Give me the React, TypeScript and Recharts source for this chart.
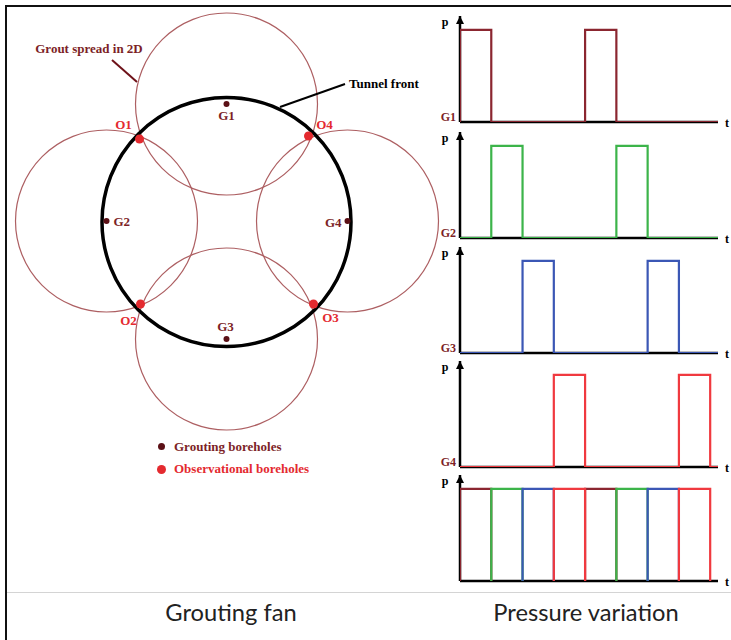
import React from 'react'
import {
  ScatterChart,
  Scatter,
  LineChart,
  Line,
  XAxis,
  YAxis,
  ReferenceArea,
  ReferenceLine,
  ReferenceDot,
  Legend,
} from 'recharts'

// Grouting fan, tunnel centre at (0, 0), y pointing up
const TUNNEL_RADIUS = 124.5
const GROUT_RADIUS = 91

const GROUT_HOLES = [
  { name: 'G1', x: 0, y: 118 },
  { name: 'G2', x: -120, y: 1 },
  { name: 'G3', x: 0, y: -117 },
  { name: 'G4', x: 121, y: 1 },
]

const OBS_HOLES = [
  { name: 'O1', x: -87, y: 83 },
  { name: 'O2', x: -86, y: -82 },
  { name: 'O3', x: 87, y: -82 },
  { name: 'O4', x: 82, y: 86 },
]

// Pressure pulses, time in slots of one injection
const PULSE_WIDTH = 1
const T_END = 8.25
const P_MAX = 1.15
const G1_STARTS = [0, 4]
const G2_STARTS = [1, 5]
const G3_STARTS = [2, 6]
const G4_STARTS = [3, 7]

const MAROON = '#7d1f27'
const RED = '#e42a2f'
const SERIF = "'Liberation Serif', 'Times New Roman', serif"

const SERIES = [
  { name: 'G1', starts: G1_STARTS, color: '#8b2630' },
  { name: 'G2', starts: G2_STARTS, color: '#3cb44a' },
  { name: 'G3', starts: G3_STARTS, color: '#3b57b5' },
  { name: 'G4', starts: G4_STARTS, color: '#f0393f' },
]

const CHART_TOPS = [6, 122, 237, 351, 465]

// where each hole label sits relative to its dot (px)
const LABEL_POS: Record<string, { dx: number; dy: number; anchor: string }> = {
  G1: { dx: 0, dy: 11, anchor: 'middle' },
  G2: { dx: 7, dy: 0, anchor: 'start' },
  G3: { dx: -1, dy: -13, anchor: 'middle' },
  G4: { dx: -6, dy: 1, anchor: 'end' },
  O1: { dx: -16, dy: -15, anchor: 'middle' },
  O2: { dx: -12, dy: 16, anchor: 'middle' },
  O3: { dx: 17, dy: 13, anchor: 'middle' },
  O4: { dx: 16, dy: -12, anchor: 'middle' },
}

const LEGEND_TEXT: Record<string, string> = {
  'Grouting boreholes': MAROON,
  'Observational boreholes': RED,
}

const stepData = (starts: number[]) => [
  { t: 0, p: 0 },
  ...starts.flatMap((s) => [
    { t: s, p: 1 },
    { t: s + PULSE_WIDTH, p: 0 },
  ]),
  { t: T_END, p: 0 },
]

const pulseData = (s: number) => [
  { t: s, p: 0 },
  { t: s, p: 1 },
  { t: s + PULSE_WIDTH, p: 0 },
]

const ring = (stroke: string, width: number) => (props: any) => (
  <ellipse
    cx={props.x + props.width / 2}
    cy={props.y + props.height / 2}
    rx={props.width / 2}
    ry={props.height / 2}
    fill="none"
    stroke={stroke}
    strokeWidth={width}
  />
)

const holeShape = (r: number, fill: string, textColor: string) => (props: any) => {
  const pos = LABEL_POS[props.payload.name]
  return (
    <g>
      <circle cx={props.cx} cy={props.cy} r={r} fill={fill} />
      <text
        x={props.cx + pos.dx}
        y={props.cy + pos.dy}
        dy="0.35em"
        textAnchor={pos.anchor}
        fontFamily={SERIF}
        fontWeight="bold"
        fontSize={13}
        fill={textColor}
      >
        {props.payload.name}
      </text>
    </g>
  )
}

const note = (text: string, color: string, anchor: string) => (props: any) => (
  <text
    x={props.cx}
    y={props.cy}
    dy="0.35em"
    textAnchor={anchor}
    fontFamily={SERIF}
    fontWeight="bold"
    fontSize={13}
    fill={color}
  >
    {text}
  </text>
)

const FanLegend = (props: any) => (
  <div style={{ fontFamily: SERIF, fontWeight: 'bold', fontSize: 13 }}>
    {props.payload.map((entry: any) => (
      <div key={entry.value} style={{ display: 'flex', alignItems: 'center', height: 22.6 }}>
        <span style={{ width: 12, display: 'flex', justifyContent: 'center' }}>
          <span
            style={{
              width: entry.value === 'Grouting boreholes' ? 7 : 9,
              height: entry.value === 'Grouting boreholes' ? 7 : 9,
              borderRadius: '50%',
              background: entry.color,
            }}
          />
        </span>
        <span style={{ marginLeft: 7, color: LEGEND_TEXT[entry.value] }}>{entry.value}</span>
      </div>
    ))}
  </div>
)

const GroutingFan = () => (
  <ScatterChart width={452} height={492} margin={{ top: 0, right: 0, bottom: 0, left: 0 }}>
    <XAxis type="number" dataKey="x" domain={[-226.5, 225.5]} allowDataOverflow hide />
    <YAxis type="number" dataKey="y" domain={[-270, 222]} allowDataOverflow hide />
    {GROUT_HOLES.map((g) => (
      <ReferenceArea
        key={g.name}
        x1={g.x - GROUT_RADIUS}
        x2={g.x + GROUT_RADIUS}
        y1={g.y - GROUT_RADIUS}
        y2={g.y + GROUT_RADIUS}
        ifOverflow="visible"
        shape={ring('#ad5f62', 1.2)}
      />
    ))}
    <ReferenceArea
      x1={-TUNNEL_RADIUS}
      x2={TUNNEL_RADIUS}
      y1={-TUNNEL_RADIUS}
      y2={TUNNEL_RADIUS}
      ifOverflow="visible"
      shape={ring('#000', 3.5)}
    />
    <ReferenceLine
      segment={[{ x: -114.5, y: 162 }, { x: -89.5, y: 140 }]}
      stroke="#6e1219"
      strokeWidth={2}
      ifOverflow="visible"
    />
    <ReferenceLine
      segment={[{ x: 118.5, y: 138 }, { x: 53.5, y: 115 }]}
      stroke="#000"
      strokeWidth={2}
      ifOverflow="visible"
    />
    <ReferenceDot x={-137.5} y={174} ifOverflow="visible" shape={note('Grout spread in 2D', MAROON, 'middle')} />
    <ReferenceDot x={122.5} y={139} ifOverflow="visible" shape={note('Tunnel front', '#000', 'start')} />
    <Scatter
      name="Grouting boreholes"
      data={GROUT_HOLES}
      fill="#5b1016"
      shape={holeShape(3, '#5b1016', MAROON)}
      isAnimationActive={false}
    />
    <Scatter
      name="Observational boreholes"
      data={OBS_HOLES}
      fill={RED}
      shape={holeShape(4.5, RED, RED)}
      isAnimationActive={false}
    />
    <Legend
      layout="vertical"
      align="center"
      verticalAlign="middle"
      content={FanLegend}
      wrapperStyle={{ left: 155, top: 435.4, width: 200, height: 46 }}
    />
  </ScatterChart>
)

const arrowShape = (props: any) => (
  <g>
    <path d={`M${props.cx},${props.cy} L${props.cx - 4},${props.cy + 8} L${props.cx + 4},${props.cy + 8} Z`} fill="#000" />
    <text x={props.cx - 15} y={props.cy + 6} dy="0.35em" textAnchor="middle" fontFamily={SERIF} fontWeight="bold" fontSize={12} fill="#000">
      p
    </text>
  </g>
)

const tShape = (props: any) => (
  <text x={props.cx + 9} y={props.cy + 1} dy="0.35em" textAnchor="middle" fontFamily={SERIF} fontWeight="bold" fontSize={12} fill="#000">
    t
  </text>
)

const gShape = (name: string) => (props: any) => (
  <text x={props.cx - 4} y={props.cy - 5} dy="0.35em" textAnchor="end" fontFamily={SERIF} fontWeight="bold" fontSize={12} fill={MAROON}>
    {name}
  </text>
)

const PulseChart = ({ top, label, children }: { top: number; label?: string; children: React.ReactNode }) => (
  <div style={{ position: 'absolute', left: 420, top }}>
    <LineChart width={311} height={126} margin={{ top: 10, right: 13, bottom: 10, left: 40 }}>
      <XAxis type="number" dataKey="t" domain={[0, T_END]} allowDataOverflow hide />
      <YAxis type="number" dataKey="p" domain={[0, P_MAX]} allowDataOverflow hide />
      <ReferenceLine y={0} stroke="#000" strokeWidth={2.5} />
      <ReferenceLine x={0} stroke="#000" strokeWidth={2.5} />
      {children}
      <ReferenceDot x={0} y={P_MAX} shape={arrowShape} />
      <ReferenceDot x={T_END} y={0} shape={tShape} />
      {label && <ReferenceDot x={0} y={0} shape={gShape(label)} />}
    </LineChart>
  </div>
)

const captionStyle: React.CSSProperties = {
  position: 'absolute',
  top: 600.3,
  textAlign: 'center',
  fontFamily: 'Lato, sans-serif',
  fontSize: 23.7,
  lineHeight: '24px',
  color: '#222',
}

export default function App() {
  return (
    <div style={{ position: 'absolute', left: 0, top: 0, width: 731, height: 640, background: '#fff', overflow: 'hidden' }}>
      <div
        style={{
          position: 'absolute',
          left: 5,
          top: 5,
          width: 726,
          height: 635,
          borderTop: '2px solid #111',
          borderLeft: '2px solid #111',
        }}
      />
      <div style={{ position: 'absolute', left: 7, top: 592, width: 724, height: 1, background: '#d4d4d4' }} />

      <div style={{ position: 'absolute', left: 0, top: 0 }}>
        <GroutingFan />
      </div>

      {SERIES.map((s, i) => (
        <PulseChart key={s.name} top={CHART_TOPS[i]} label={s.name}>
          <Line
            data={stepData(s.starts)}
            dataKey="p"
            type="stepAfter"
            stroke={s.color}
            strokeWidth={2.2}
            dot={false}
            isAnimationActive={false}
          />
        </PulseChart>
      ))}
      <PulseChart top={CHART_TOPS[4]}>
        {SERIES.flatMap((s) =>
          s.starts.map((st) => (
            <Line
              key={`${s.name}-${st}`}
              data={pulseData(st)}
              dataKey="p"
              type="stepAfter"
              stroke={s.color}
              strokeWidth={2.2}
              dot={false}
              isAnimationActive={false}
            />
          ))
        )}
      </PulseChart>

      <div style={{ ...captionStyle, left: 0, width: 462 }}>Grouting fan</div>
      <div style={{ ...captionStyle, left: 441, width: 290 }}>Pressure variation</div>
    </div>
  )
}
